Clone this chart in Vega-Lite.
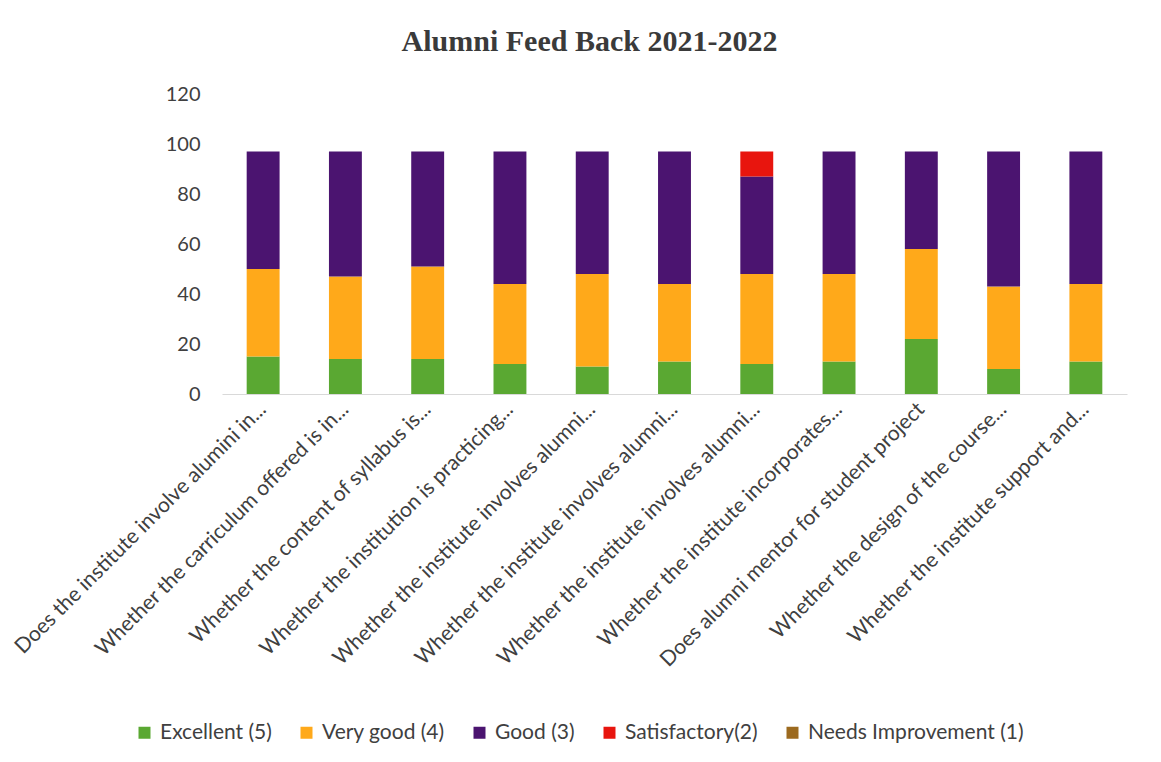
{
  "$schema": "https://vega.github.io/schema/vega-lite/v6.json",
  "autosize": {"type": "none"},
  "width": 905,
  "height": 300,
  "padding": {"left": 222, "top": 94, "right": 34, "bottom": 368},
  "background": "white",
  "title": {
    "text": "Alumni Feed Back 2021-2022",
    "font": "Liberation Serif",
    "fontSize": 30,
    "fontWeight": "bold",
    "color": "#3a3a3a",
    "anchor": "middle",
    "dx": -85,
    "offset": 27
  },
  "data": {
    "values": [
      {"id": 1, "rating": "Excellent (5)", "score": 5, "value": 15},
      {"id": 1, "rating": "Very good (4)", "score": 4, "value": 35},
      {"id": 1, "rating": "Good (3)", "score": 3, "value": 47},
      {"id": 2, "rating": "Excellent (5)", "score": 5, "value": 14},
      {"id": 2, "rating": "Very good (4)", "score": 4, "value": 33},
      {"id": 2, "rating": "Good (3)", "score": 3, "value": 50},
      {"id": 3, "rating": "Excellent (5)", "score": 5, "value": 14},
      {"id": 3, "rating": "Very good (4)", "score": 4, "value": 37},
      {"id": 3, "rating": "Good (3)", "score": 3, "value": 46},
      {"id": 4, "rating": "Excellent (5)", "score": 5, "value": 12},
      {"id": 4, "rating": "Very good (4)", "score": 4, "value": 32},
      {"id": 4, "rating": "Good (3)", "score": 3, "value": 53},
      {"id": 5, "rating": "Excellent (5)", "score": 5, "value": 11},
      {"id": 5, "rating": "Very good (4)", "score": 4, "value": 37},
      {"id": 5, "rating": "Good (3)", "score": 3, "value": 49},
      {"id": 6, "rating": "Excellent (5)", "score": 5, "value": 13},
      {"id": 6, "rating": "Very good (4)", "score": 4, "value": 31},
      {"id": 6, "rating": "Good (3)", "score": 3, "value": 53},
      {"id": 7, "rating": "Excellent (5)", "score": 5, "value": 12},
      {"id": 7, "rating": "Very good (4)", "score": 4, "value": 36},
      {"id": 7, "rating": "Good (3)", "score": 3, "value": 39},
      {"id": 7, "rating": "Satisfactory(2)", "score": 2, "value": 10},
      {"id": 8, "rating": "Excellent (5)", "score": 5, "value": 13},
      {"id": 8, "rating": "Very good (4)", "score": 4, "value": 35},
      {"id": 8, "rating": "Good (3)", "score": 3, "value": 49},
      {"id": 9, "rating": "Excellent (5)", "score": 5, "value": 22},
      {"id": 9, "rating": "Very good (4)", "score": 4, "value": 36},
      {"id": 9, "rating": "Good (3)", "score": 3, "value": 39},
      {"id": 10, "rating": "Excellent (5)", "score": 5, "value": 10},
      {"id": 10, "rating": "Very good (4)", "score": 4, "value": 33},
      {"id": 10, "rating": "Good (3)", "score": 3, "value": 54},
      {"id": 11, "rating": "Excellent (5)", "score": 5, "value": 13},
      {"id": 11, "rating": "Very good (4)", "score": 4, "value": 31},
      {"id": 11, "rating": "Good (3)", "score": 3, "value": 53}
    ]
  },
  "mark": {"type": "bar"},
  "encoding": {
    "x": {
      "field": "id",
      "type": "ordinal",
      "scale": {"paddingInner": 0.6, "paddingOuter": 0.3},
      "axis": {
        "title": null,
        "labelAngle": -45,
        "labelAlign": "right",
        "labelBaseline": "middle",
        "labelFont": "Lato",
        "labelFontSize": 21,
        "labelColor": "#404040",
        "labelPadding": 12,
        "labelLimit": 0,
        "labelOverlap": false,
        "ticks": false,
        "domainColor": "#d9d9d9",
        "domainWidth": 1,
        "labelExpr": "['Does the institute involve alumini in...','Whether the carriculum offered is in...','Whether the content of syllabus is...','Whether the institution is practicing...','Whether the institute involves alumni...','Whether the institute involves alumni...','Whether the institute involves alumni...','Whether the institute incorporates...','Does alumni mentor for student project','Whether the design of the course...','Whether the institute support and...'][datum.value - 1]"
      }
    },
    "y": {
      "field": "value",
      "type": "quantitative",
      "stack": "zero",
      "scale": {"domain": [0, 120]},
      "axis": {
        "title": null,
        "values": [0, 20, 40, 60, 80, 100, 120],
        "grid": false,
        "domain": false,
        "ticks": false,
        "labelFont": "Lato",
        "labelFontSize": 20,
        "labelColor": "#404040",
        "labelPadding": 22
      }
    },
    "color": {
      "field": "rating",
      "type": "nominal",
      "scale": {
        "domain": ["Excellent (5)", "Very good (4)", "Good (3)", "Satisfactory(2)", "Needs Improvement (1)"],
        "range": ["#5aa832", "#ffa91a", "#4b1470", "#e8150e", "#9c6a1f"]
      },
      "legend": {
        "title": null,
        "orient": "none",
        "direction": "horizontal",
        "legendX": -88,
        "legendY": 628,
        "symbolType": "square",
        "symbolSize": 144,
        "symbolStrokeWidth": 0,
        "labelFont": "Lato",
        "labelFontSize": 21,
        "labelColor": "#404040",
        "labelLimit": 0,
        "columnPadding": 24,
        "labelOffset": 5
      }
    },
    "order": {"field": "score", "type": "quantitative", "sort": "descending"}
  },
  "config": {"view": {"stroke": null}}
}
